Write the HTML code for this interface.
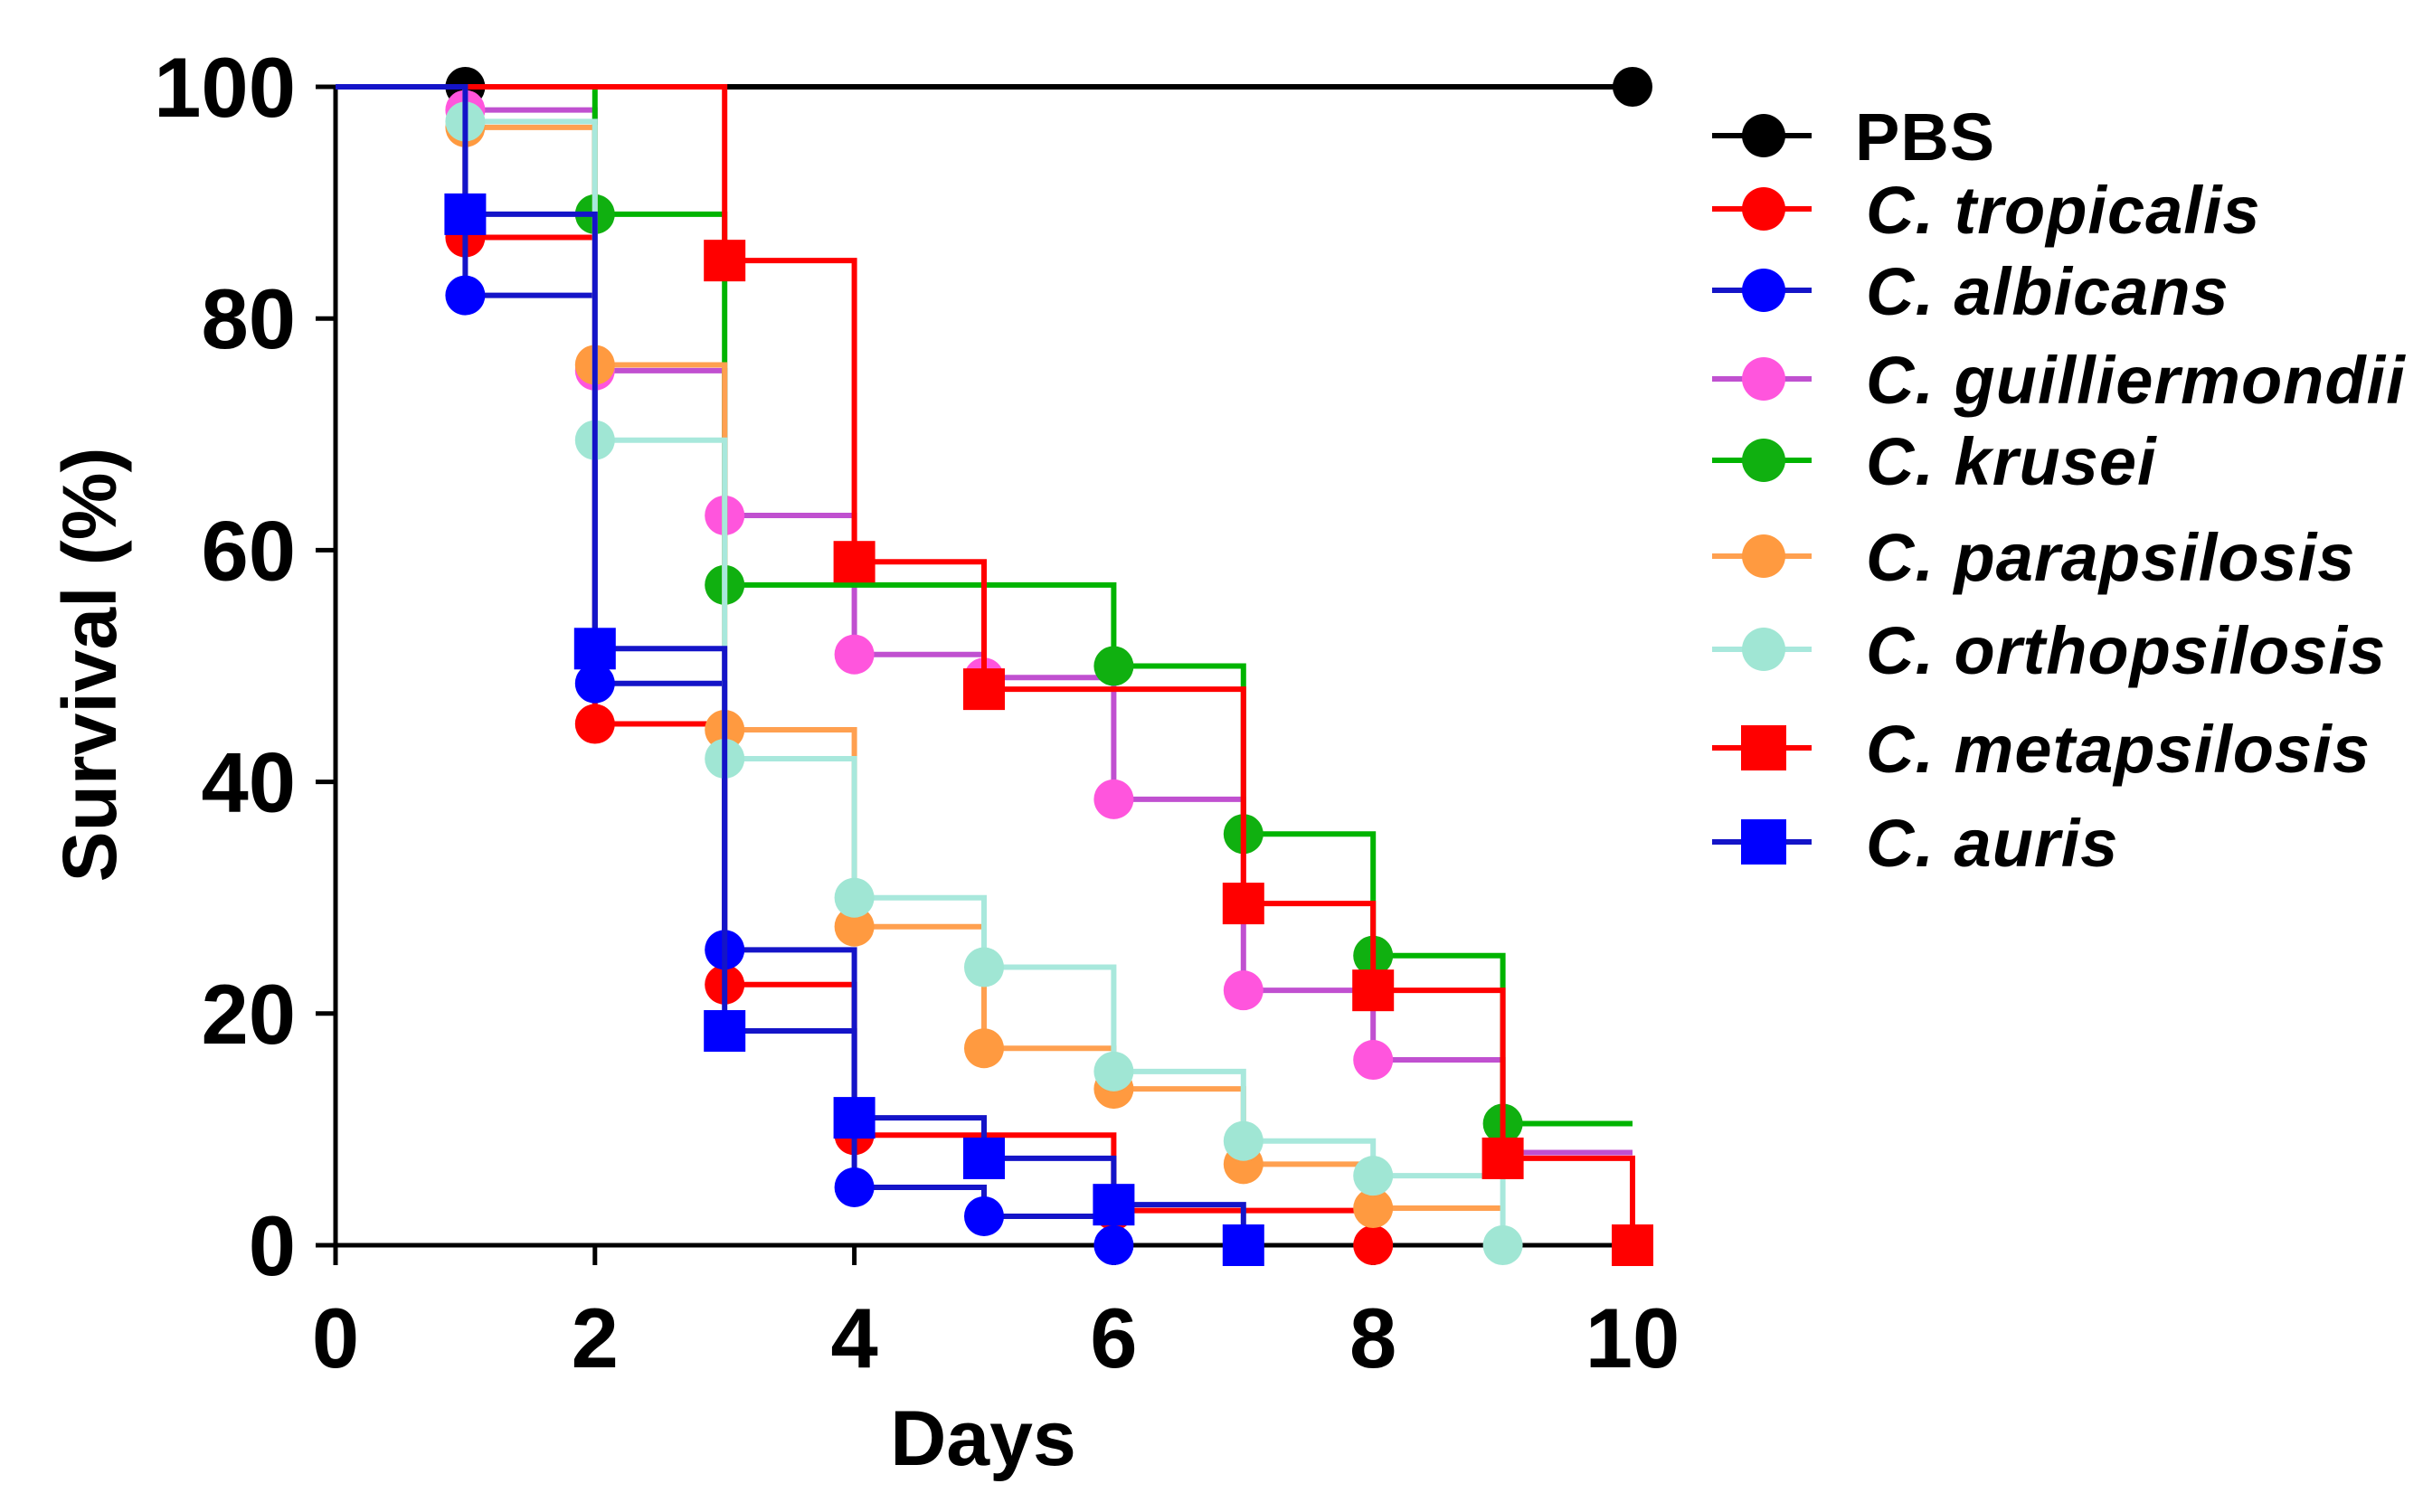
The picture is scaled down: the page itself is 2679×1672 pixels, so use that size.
<!DOCTYPE html>
<html><head><meta charset="utf-8"><style>
html,body{margin:0;padding:0;background:#fff}
svg{display:block}
text{font-family:"Liberation Sans",Arial,sans-serif;font-weight:bold}
</style></head><body>
<svg id="chart" width="2679" height="1672" viewBox="0 0 2679 1672" xmlns="http://www.w3.org/2000/svg">
<g id="axes"></g>
<g id="series"></g>
<g id="legend"></g>
</svg>
<script>
const xTicks = [0, 2, 4, 6, 8, 10];
const yTicks = [0, 20, 40, 60, 80, 100];
const seriesNames = ["PBS","C. tropicalis","C. albicans","C. guilliermondii","C. krusei","C. parapsilosis","C. orthopsilosis","C. metapsilosis","C. auris"];
const pbs = [100,100,100,100,100,100,100,100,100,100];
const tropicalis = [87,45,22.5,9.5,9.5,3,3,0];
const albicans = [82,48.5,25.5,5,2.5,0];
const guilliermondii = [98,75.5,63,51,49,38.5,22,16,8,8];
const krusei = [100,89,57,57,57,50,35.5,25,10.5,10.5];
const parapsilosis = [96.5,76,44.5,27.5,17,13.5,7,3.2,3.2];
const orthopsilosis = [97,69.5,42,30,24,15,9,6,0];
const metapsilosis = [100,100,85,59,48,48,29.5,22,7.5,0];
const auris = [89,51.5,18.5,11,7.5,3.5,0];

const X0=371,X1=1805,Y0=1377,Y1=96;
const sx=v=>X0+(X1-X0)*v/10;
const sy=v=>Y0-(Y0-Y1)*v/100;
const NS="http://www.w3.org/2000/svg";
function mk(tag,attrs,parent){const e=document.createElementNS(NS,tag);for(const k in attrs)e.setAttribute(k,attrs[k]);parent.appendChild(e);return e;}

const styles=[
 {line:"#000",fill:"#000",shape:"c"},
 {line:"#ff0000",fill:"#ff0000",shape:"c"},
 {line:"#1414c8",fill:"#0000ff",shape:"c"},
 {line:"#c050d0",fill:"#ff55dd",shape:"c"},
 {line:"#00b400",fill:"#10b010",shape:"c"},
 {line:"#ffa050",fill:"#ff9a40",shape:"c"},
 {line:"#a8e8dc",fill:"#a0e6d4",shape:"c"},
 {line:"#ff0000",fill:"#ff0000",shape:"s"},
 {line:"#1414c8",fill:"#0000ff",shape:"s"}
];
const data=[pbs,tropicalis,albicans,guilliermondii,krusei,parapsilosis,orthopsilosis,metapsilosis,auris];

const axes=document.getElementById('axes');
const yAxis=mk('line',{x1:X0,y1:Y1-2,x2:X0,y2:Y0+2,stroke:'#000','stroke-width':5},axes);


const xAxis=mk('line',{x1:X0-2,y1:Y0,x2:X1+2,y2:Y0,stroke:'#000','stroke-width':5},axes);


yTicks.forEach(t=>{
 const l=mk('line',{x1:X0-22,y1:sy(t),x2:X0,y2:sy(t),stroke:'#000','stroke-width':5},axes);
 
 
 const tx=mk('text',{x:X0-44,y:sy(t)+33,'font-size':94,'text-anchor':'end'},axes);
 tx.textContent=t;
 
 
});
xTicks.forEach(t=>{
 const l=mk('line',{x1:sx(t),y1:Y0,x2:sx(t),y2:Y0+22,stroke:'#000','stroke-width':5},axes);
 
 
 const tx=mk('text',{x:sx(t),y:1512,'font-size':94,'text-anchor':'middle'},axes);
 tx.textContent=t;
 
 
});
const xt=mk('text',{x:1087,y:1620,'font-size':86,'text-anchor':'middle'},axes);
xt.textContent='Days';


const yt=mk('text',{x:0,y:0,'font-size':84,'text-anchor':'middle',transform:'translate(128,735) rotate(-90)'},axes);
yt.textContent='Survival (%)';



function marker(g,shape,x,y,fill,r){
 r=r||22;
 let m;
 if(shape==='c') m=mk('circle',{cx:x,cy:y,r:r,fill:fill},g);
 else m=mk('rect',{x:x-r-1,y:y-r-1,width:2*r+2,height:2*r+2,fill:fill},g);
 return m;
}
const sg=document.getElementById('series');
data.forEach((vals,si)=>{
 const st=styles[si];
 const g=mk('g',{},sg);
 
 
 let d='M'+sx(0)+' '+sy(100);
 let prev=100;
 vals.forEach((v,i)=>{d+=' L'+sx(i+1)+' '+sy(prev)+' L'+sx(i+1)+' '+sy(v);prev=v;});
 const p=mk('path',{d:d,fill:'none',stroke:st.line,'stroke-width':6},g);
 
 
 const constant=vals.every(v=>v===vals[0]);
 prev=100;
 vals.forEach((v,i)=>{
  const show=constant?(i===0||i===vals.length-1):(v!==prev);
  if(show){
   const m=marker(g,st.shape,sx(i+1),sy(v),st.fill);
   
   
  }
  prev=v;
 });
});

const lg=document.getElementById('legend');
const rowsY=[150,231,321,419,509,615,718,827,931];
seriesNames.forEach((n,i)=>{
 const st=styles[i];
 const g=mk('g',{},lg);
 
 
 mk('line',{x1:1893,y1:rowsY[i],x2:2003,y2:rowsY[i],stroke:st.line,'stroke-width':6},g);
 marker(g,st.shape,1950,rowsY[i],st.fill,24);
 const t=mk('text',{x:i===0?2051:2063,y:rowsY[i]+27,'font-size':74,'font-style':i===0?'normal':'italic','letter-spacing':1},g);
 t.textContent=n;
});
</script>
</body></html>
